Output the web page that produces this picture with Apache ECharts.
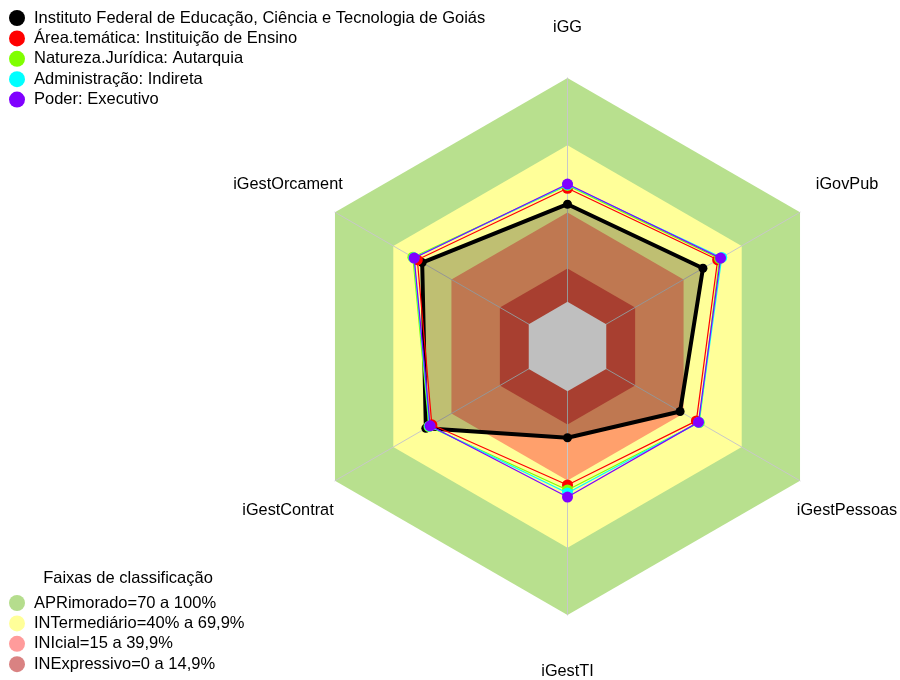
<!DOCTYPE html>
<html>
<head>
<meta charset="utf-8">
<script src="https://cdn.jsdelivr.net/npm/echarts@6/dist/echarts.min.js"></script>
<style>
  html, body { margin: 0; padding: 0; background: #fff; }
  #chart { width: 900px; height: 680px; }
</style>
</head>
<body>
<div id="chart"></div>
<script>
// indicators in the order the radar walks them (counter-clockwise from top)
var indicators = ["iGG", "iGestOrcament", "iGestContrat", "iGestTI", "iGestPessoas", "iGovPub"];

var seriesNames = [
  "Instituto Federal de Educação, Ciência e Tecnologia de Goiás",
  "Área.temática: Instituição de Ensino",
  "Natureza.Jurídica: Autarquia",
  "Administração: Indireta",
  "Poder: Executivo"
];
var ifgValues      = [43.6, 55.0, 53.1, 20.8, 38.1, 49.9];
var areaValues     = [50.7, 57.5, 50.0, 41.9, 46.5, 57.5];
var naturezaValues = [52.0, 59.8, 51.5, 44.1, 48.0, 58.5];
var adminValues    = [52.3, 59.3, 51.2, 45.5, 47.8, 59.6];
var poderValues    = [52.6, 59.1, 50.9, 47.3, 47.6, 59.0];

var bandNames = [
  "APRimorado=70 a 100%",
  "INTermediário=40% a 69,9%",
  "INIcial=15 a 39,9%",
  "INExpressivo=0 a 14,9%"
];
var bandLimits = [100, 69.9, 39.9, 14.9];

var lineColors = ["#000000", "#ff0000", "#80ff00", "#00ffff", "#8000ff"];
var bandLegendColors = ["#b5dd8d", "#ffff99", "#ff9b9b", "#d98282"];
var bandFillColors = ["#b8e08e", "#ffff99", "#ffa06c", "#e05540"];

var cx = 567.5, cy = 346.5, R = 268.5;

// label placement: centred boxes pushed off the axis direction
var labelKey = {
  iGG: "top", iGovPub: "up", iGestPessoas: "down",
  iGestTI: "bottom", iGestContrat: "down", iGestOrcament: "up"
};
var labelBase = { width: 130, align: "center", fontSize: 16.3, fontFamily: "Liberation Sans", color: "#000" };
function rich(pad) { return Object.assign({}, labelBase, { padding: pad }); }

var indicatorList = indicators.map(function(n) { return { name: n, min: -20, max: 100 }; });

var series = [];
var i;
for (i = 0; i < bandNames.length; i++) {
  series.push({
    type: "radar", radarIndex: 0, z: 1, name: bandNames[i],
    symbol: "none", silent: true,
    itemStyle: { color: bandLegendColors[i] },
    lineStyle: { width: 0, opacity: 0 },
    areaStyle: { color: bandFillColors[i], opacity: 1 },
    data: [{ name: bandNames[i], value: indicators.map(function() { return bandLimits[i]; }) }]
  });
}
// white hole in the middle (value 0 sits at 1/6 of the radius)
series.push({
  type: "radar", radarIndex: 0, z: 4, name: "centro",
  symbol: "none", silent: true,
  lineStyle: { width: 0, opacity: 0 },
  itemStyle: { color: "#ffffff" },
  areaStyle: { color: "#ffffff", opacity: 1 },
  data: [{ name: "centro", value: indicators.map(function() { return 0; }) }]
});

var allValues = [ifgValues, areaValues, naturezaValues, adminValues, poderValues];
for (i = 0; i < seriesNames.length; i++) {
  var isMain = i === 0;
  series.push({
    type: "radar", radarIndex: 0, z: 5 + i, name: seriesNames[i],
    symbol: "circle",
    symbolSize: isMain ? 9 : 11,
    itemStyle: { color: lineColors[i] },
    lineStyle: { color: lineColors[i], width: isMain ? 4 : 1.2 },
    areaStyle: isMain ? { color: "rgba(0,0,0,0.25)", opacity: 1 } : undefined,
    data: [{ name: seriesNames[i], value: allValues[i] }]
  });
}

var legendText = { fontSize: 16.5, color: "#000", fontFamily: "Liberation Sans" };

var option = {
  animation: false,
  backgroundColor: "#ffffff",
  title: {
    text: "Faixas de classificação",
    left: 123, top: 565, textAlign: "center",
    textStyle: { fontSize: 16.5, fontWeight: "normal", color: "#000", fontFamily: "Liberation Sans" }
  },
  legend: [{
    data: seriesNames,
    orient: "vertical", left: 4, top: 9.5, padding: [0, 5],
    icon: "circle", itemWidth: 24, itemHeight: 16, itemGap: 3.4,
    selectedMode: false,
    textStyle: legendText
  }, {
    data: bandNames,
    orient: "vertical", left: 4, top: 594.5, padding: [0, 5],
    icon: "circle", itemWidth: 24, itemHeight: 16, itemGap: 3.4,
    selectedMode: false,
    textStyle: legendText
  }],
  radar: [{
    center: [cx, cy], radius: R, shape: "polygon", startAngle: 90,
    splitNumber: 5,
    indicator: indicatorList,
    nameGap: -20.8,
    axisName: {
      formatter: function(name) { return "{" + labelKey[name] + "|" + name + "}"; },
      rich: {
        top: rich([0, 0, 63.5, 0]),
        up: rich([0, 0, 75.3, 0]),
        down: rich([81.3, 0, 0, 0]),
        bottom: rich([69.5, 0, 0, 0])
      }
    },
    axisLine: { show: false },
    splitLine: { show: false },
    splitArea: { show: false },
    axisTick: { show: false },
    axisLabel: { show: false }
  }, {
    // spokes drawn above the bands, below the centre hole
    center: [cx, cy], radius: R, shape: "polygon", startAngle: 90, z: 3,
    indicator: indicatorList,
    axisName: { show: false },
    axisLine: { show: true, lineStyle: { color: "#c8c8c8", width: 1 } },
    splitLine: { show: false },
    splitArea: { show: false },
    axisTick: { show: false },
    axisLabel: { show: false }
  }],
  series: series
};

var myChart = echarts.init(document.getElementById("chart"), null, { renderer: "canvas" });
myChart.setOption(option);
</script>
</body>
</html>
